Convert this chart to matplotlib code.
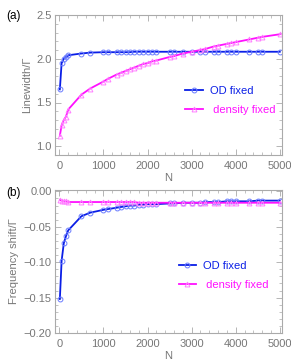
#!/usr/bin/env python3

import matplotlib
matplotlib.use('Agg')
import matplotlib.pyplot as plt
from matplotlib.ticker import MultipleLocator

plt.rcParams['font.family'] = ['Liberation Sans', 'DejaVu Sans']

# sample sizes
n_vals = [10, 50, 100, 150, 200, 500, 700, 1000, 1100, 1300, 1400, 1500, 1600,
          1700, 1800, 1900, 2000, 2100, 2200, 2500, 2600, 2800, 3000, 3200,
          3300, 3500, 3600, 3800, 3900, 4000, 4300, 4500, 4600, 5000]

# (a) linewidth / Gamma
width_od = [1.65, 1.95, 2.00, 2.02, 2.04, 2.06, 2.07, 2.075, 2.075, 2.075,
            2.075, 2.075, 2.075, 2.08, 2.08, 2.08, 2.08, 2.08, 2.08, 2.08,
            2.08, 2.08, 2.08, 2.08, 2.08, 2.08, 2.08, 2.08, 2.08, 2.08,
            2.08, 2.08, 2.08, 2.08]
width_dens = [1.12, 1.24, 1.30, 1.34, 1.42, 1.59, 1.66, 1.74, 1.77, 1.82,
              1.84, 1.86, 1.88, 1.90, 1.92, 1.94, 1.95, 1.97, 1.98, 2.02,
              2.03, 2.06, 2.08, 2.10, 2.11, 2.14, 2.15, 2.17, 2.18, 2.19,
              2.22, 2.24, 2.25, 2.28]

# (b) frequency shift / Gamma
shift_od = [-0.152, -0.098, -0.073, -0.063, -0.055, -0.035, -0.030, -0.026,
            -0.025, -0.023, -0.022, -0.021, -0.020, -0.020, -0.019, -0.019,
            -0.018, -0.018, -0.018, -0.017, -0.017, -0.016, -0.016, -0.016,
            -0.015, -0.015, -0.015, -0.014, -0.014, -0.014, -0.014, -0.013,
            -0.013, -0.013]
shift_dens = [-0.012, -0.013, -0.014, -0.014, -0.015, -0.015, -0.015, -0.015,
              -0.015, -0.015, -0.015, -0.015, -0.015, -0.015, -0.016, -0.016,
              -0.016, -0.016, -0.016, -0.016, -0.016, -0.016, -0.016, -0.016,
              -0.016, -0.016, -0.016, -0.016, -0.016, -0.016, -0.016, -0.016,
              -0.016, -0.016]

GRAY = '#777777'
BLUE = '#0a1ee6'
BLUE_M = '#6a7cff'
MAG = '#ff10ff'
MAG_M = '#ff80ff'


def style_axes(ax):
    for s in ax.spines.values():
        s.set_color('#aaaaaa')
        s.set_linewidth(0.8)
    ax.tick_params(which='both', direction='in', colors='#aaaaaa',
                   labelcolor=GRAY, labelsize=8, top=True, right=True)
    ax.tick_params(which='major', length=4, width=0.6)
    ax.tick_params(which='minor', length=2, width=0.5)
    ax.tick_params(axis='x', pad=4)
    ax.tick_params(axis='y', pad=2.5)
    ax.xaxis.set_major_locator(MultipleLocator(1000))
    ax.xaxis.set_minor_locator(MultipleLocator(200))
    ax.set_xlim(-100, 5050)
    ax.set_xlabel('N', color=GRAY, fontsize=8, labelpad=2)


def draw(ax, y1, y2):
    ax.plot(n_vals, y1, color=BLUE, lw=1.3, marker='o', ms=3.5,
            mfc='none', mec=BLUE_M, mew=0.7, label='OD fixed')
    ax.plot(n_vals, y2, color=MAG, lw=1.3, marker='^', ms=3.5,
            mfc='none', mec=MAG_M, mew=0.7, label=' density fixed')


fig = plt.figure(figsize=(2.91, 3.6), dpi=100)
ax1 = fig.add_axes([55 / 291, 1 - 155 / 360, 227 / 291, 140 / 360])
ax2 = fig.add_axes([55 / 291, 1 - 333 / 360, 227 / 291, 143 / 360])

draw(ax1, width_od, width_dens)
style_axes(ax1)
ax1.set_ylim(0.9, 2.5)
ax1.yaxis.set_major_locator(MultipleLocator(0.5))
ax1.yaxis.set_minor_locator(MultipleLocator(0.1))
ax1.set_ylabel('Linewidth/Γ', color=GRAY, fontsize=8, labelpad=3)
leg1 = ax1.legend(loc='center left', bbox_to_anchor=(0.53, 0.39), frameon=False,
                  fontsize=8, handlelength=1.6, labelspacing=0.8,
                  handletextpad=0.6)

draw(ax2, shift_od, shift_dens)
style_axes(ax2)
ax2.set_ylim(-0.2, 0.002)
ax2.yaxis.set_major_locator(MultipleLocator(0.05))
ax2.yaxis.set_minor_locator(MultipleLocator(0.01))
ax2.yaxis.set_major_formatter(plt.FuncFormatter(
    lambda v, p: ('%.2f' % v).replace('-', '\u2212')))
ax2.set_ylabel('Frequency shift/Γ', color=GRAY, fontsize=8, labelpad=3)
leg2 = ax2.legend(loc='center left', bbox_to_anchor=(0.5, 0.4), frameon=False,
                  fontsize=8, handlelength=1.6, labelspacing=0.8,
                  handletextpad=0.6)

for leg in (leg1, leg2):
    for t, c in zip(leg.get_texts(), (BLUE, MAG)):
        t.set_color(c)

fig.text(6 / 291, 1 - 16 / 360, '(a)', fontsize=8.5, va='center')
fig.text(6 / 291, 1 - 193 / 360, '(b)', fontsize=8.5, va='center')

plt.savefig('out.png', dpi=100)
plt.close()
